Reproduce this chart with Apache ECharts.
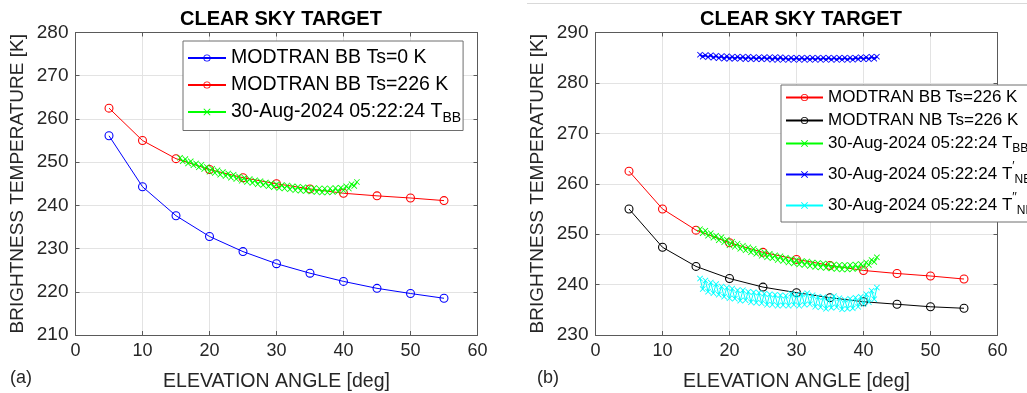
<!DOCTYPE html>
<html>
<head>
<meta charset="utf-8">
<script src="https://cdn.jsdelivr.net/npm/echarts@6/dist/echarts.min.js"></script>
<style>
html,body{margin:0;padding:0;background:#fff;}
#chart{width:1027px;height:393px;}
</style>
</head>
<body>
<div id="chart"></div>
<script>
// ---- data ----
const elev = [5, 10, 15, 20, 25, 30, 35, 40, 45, 50, 55];
const bbTs0 = [256.1, 244.3, 237.6, 232.8, 229.3, 226.5, 224.3, 222.4, 220.8, 219.6, 218.5];
const bbTs226 = [262.5, 255.0, 250.8, 248.3, 246.4, 245.0, 243.8, 242.8, 242.2, 241.7, 241.1];
const nbTs226 = [255.0, 247.4, 243.6, 241.2, 239.5, 238.4, 237.4, 236.6, 236.1, 235.6, 235.3];

const measElev = [15.6,16.0,16.4,16.8,17.2,17.6,18.0,18.4,18.8,19.2,19.6,20.0,20.4,20.8,21.2,21.6,22.0,22.4,22.8,23.2,
  23.6,24.0,24.4,24.8,25.2,25.6,26.0,26.4,26.8,27.2,27.6,28.0,28.4,28.8,29.2,29.6,30.0,30.4,30.8,31.2,
  31.6,32.0,32.4,32.8,33.2,33.6,34.0,34.4,34.8,35.2,35.6,36.0,36.4,36.8,37.2,37.6,38.0,38.4,38.8,39.2,
  39.6,40.0,40.4,40.8,41.2,41.6,42.0];
const tBB = [251.0,250.2,250.7,249.7,250.2,249.3,249.7,248.8,249.4,248.4,248.9,247.8,248.5,247.5,248.1,247.1,247.7,246.8,247.4,246.4,
  247.1,246.1,246.7,245.7,246.4,245.4,246.1,245.2,245.8,244.9,245.6,244.7,245.3,244.4,245.1,244.2,244.9,244.0,244.7,243.9,
  244.6,243.7,244.4,243.5,244.3,243.4,244.2,243.3,244.1,243.2,244.0,243.1,243.9,243.0,243.9,243.0,243.9,243.1,244.0,243.2,
  244.1,243.5,244.4,243.9,244.9,244.5,245.4];
const tNB1 = [285.6,285.2,285.5,285.1,285.5,285.0,285.4,284.9,285.3,284.8,285.3,284.8,285.2,284.8,285.2,284.8,285.2,284.7,285.2,284.7,
  285.1,284.7,285.1,284.7,285.1,284.7,285.1,284.6,285.1,284.6,285.1,284.6,285.0,284.6,285.0,284.6,285.0,284.6,285.0,284.6,
  285.0,284.6,285.0,284.6,285.0,284.6,285.0,284.6,285.0,284.6,285.0,284.6,285.0,284.6,285.0,284.6,285.0,284.6,285.0,284.7,
  285.1,284.7,285.1,284.7,285.2,284.8,285.2];
const tNB2 = [241.2,239.1,240.8,238.6,240.4,238.3,240.1,238.0,239.6,237.6,239.4,237.3,239.2,237.2,238.9,236.8,238.9,236.9,238.6,236.5,
  238.5,236.4,238.4,236.3,238.2,236.0,238.1,236.0,238.0,235.8,237.9,235.9,237.8,235.8,238.2,236.0,238.0,235.8,238.1,236.0,
  238.3,236.1,237.9,235.6,237.6,235.5,237.5,235.2,237.3,235.4,237.7,235.5,237.3,235.1,237.0,235.2,237.2,235.3,237.4,235.6,
  237.6,236.1,238.1,236.5,238.8,237.1,239.4];

const titleText = 'CLEAR SKY TARGET';
const xName = 'ELEVATION ANGLE [deg]';
const yName = 'BRIGHTNESS TEMPERATURE [K]';
const legendLabels = {
  a1: 'MODTRAN BB Ts=0 K',
  a2: 'MODTRAN BB Ts=226 K',
  a3: '30-Aug-2024 05:22:24 T{sub|BB}',
  b1: 'MODTRAN BB Ts=226 K',
  b2: 'MODTRAN NB Ts=226 K',
  b3: '30-Aug-2024 05:22:24 T{sub|BB}',
  b4: '30-Aug-2024 05:22:24 T{sup|′}{sub|NB}',
  b5: '30-Aug-2024 05:22:24 T{sup|′′}{sub|NB}'
};

// ---- build ----
const pairs = (xs, ys) => xs.map((x, i) => [x, ys[i]]);
const ring = 'path://M0,5A5,5 0 1,0 10,5A5,5 0 1,0 0,5Z M1.2,5A3.8,3.8 0 1,1 8.8,5A3.8,3.8 0 1,1 1.2,5Z';
const cross = 'path://M0,1L1,0L5,4L9,0L10,1L6,5L10,9L9,10L5,6L1,10L0,9L4,5Z';
const FONT = '"Liberation Sans", Arial, Helvetica, sans-serif';
const axisCol = '#5a5a5a';
const gridCol = '#e3e3e3';

function xAxes(gi) {
  return [{
    type: 'value', gridIndex: gi, min: 0, max: 60, interval: 10, position: 'bottom',
    name: xName, nameLocation: 'middle', nameGap: 37,
    nameTextStyle: {fontFamily: FONT, fontSize: 19.5, color: '#262626'},
    axisLine: {show: true, lineStyle: {color: axisCol}},
    axisTick: {show: true, inside: true, length: 4, lineStyle: {color: axisCol}},
    axisLabel: {fontFamily: FONT, fontSize: 18, color: '#262626', margin: 7},
    splitLine: {show: true, lineStyle: {color: gridCol}}
  }, {
    type: 'value', gridIndex: gi, min: 0, max: 60, interval: 10, position: 'top',
    axisLine: {show: true, onZero: false, lineStyle: {color: axisCol}},
    axisTick: {show: true, inside: true, length: 4, lineStyle: {color: axisCol}},
    axisLabel: {show: false}, splitLine: {show: false}
  }];
}
function yAxes(gi, mn, mx) {
  return [{
    type: 'value', gridIndex: gi, min: mn, max: mx, interval: 10, position: 'left',
    name: yName, nameLocation: 'middle', nameGap: 48,
    nameTextStyle: {fontFamily: FONT, fontSize: 19, color: '#262626'},
    axisLine: {show: true, onZero: false, lineStyle: {color: axisCol}},
    axisTick: {show: true, inside: true, length: 4, lineStyle: {color: axisCol}},
    axisLabel: {fontFamily: FONT, fontSize: 19, color: '#262626', margin: 7},
    splitLine: {show: true, lineStyle: {color: gridCol}}
  }, {
    type: 'value', gridIndex: gi, min: mn, max: mx, interval: 10, position: 'right',
    axisLine: {show: true, onZero: false, lineStyle: {color: axisCol}},
    axisTick: {show: true, inside: true, length: 4, lineStyle: {color: axisCol}},
    axisLabel: {show: false}, splitLine: {show: false}
  }];
}
function modSeries(name, xi, yi, data, color) {
  return {
    name, type: 'line', xAxisIndex: xi, yAxisIndex: yi, data,
    symbol: ring, symbolSize: 9, showAllSymbol: true,
    lineStyle: {color, width: 1}, itemStyle: {color},
    animation: false, z: 3
  };
}
function measSeries(name, xi, yi, data, color, w) {
  return {
    name, type: 'line', xAxisIndex: xi, yAxisIndex: yi, data,
    symbol: cross, symbolSize: 6, showAllSymbol: true,
    lineStyle: {color, width: w}, itemStyle: {color},
    animation: false, z: 4
  };
}
function legendRich(fs, supPad) {
  return {
    sub: {fontFamily: FONT, fontSize: Math.round(fs * 0.7), padding: [Math.round(fs * 0.65), 0, 0, 0]},
    sup: {fontFamily: FONT, fontSize: Math.round(fs * 0.7), padding: [0, 0, supPad, 0]}
  };
}

const option = {
  backgroundColor: '#fff',
  animation: false,
  title: [
    {text: titleText, left: 276, top: 4, textAlign: 'center',
     textStyle: {fontFamily: FONT, fontSize: 20, fontWeight: 'bold', color: '#000'}},
    {text: titleText, left: 796, top: 4, textAlign: 'center',
     textStyle: {fontFamily: FONT, fontSize: 20, fontWeight: 'bold', color: '#000'}}
  ],
  grid: [
    {left: 75.5, right: 549.5, top: 32.5, bottom: 58, containLabel: false, outerBoundsMode: 'none'},
    {left: 595.5, right: 29.5, top: 32.5, bottom: 58, containLabel: false, outerBoundsMode: 'none'}
  ],
  xAxis: [...xAxes(0), ...xAxes(1)],
  yAxis: [...yAxes(0, 210, 280), ...yAxes(1, 230, 290)],
  legend: [
    {data: ['a1', 'a2', 'a3'], orient: 'vertical', left: 183, top: 41,
     padding: [7, 2, 5, 4], itemGap: 7, itemWidth: 38, itemHeight: 9,
     backgroundColor: '#fff', borderColor: '#6e6e6e', borderWidth: 1,
     formatter: n => legendLabels[n], selectedMode: false,
     textStyle: {fontFamily: FONT, fontSize: 19.5, color: '#000', rich: legendRich(19.5, 9)}},
    {data: ['b1', 'b2', 'b3', 'b4', 'b5'], orient: 'vertical', left: 781, top: 85,
     padding: [4, 8, 5, 4], itemGap: 6, itemWidth: 37, itemHeight: 9,
     backgroundColor: '#fff', borderColor: '#6e6e6e', borderWidth: 1,
     formatter: n => legendLabels[n], selectedMode: false,
     textStyle: {fontFamily: FONT, fontSize: 17, color: '#000', rich: legendRich(17, 15)}}
  ],
  series: [
    modSeries('a1', 0, 0, pairs(elev, bbTs0), '#0000ff'),
    modSeries('a2', 0, 0, pairs(elev, bbTs226), '#ff0000'),
    measSeries('a3', 0, 0, pairs(measElev, tBB), '#00ff00', 1),
    modSeries('b1', 2, 2, pairs(elev, bbTs226), '#ff0000'),
    modSeries('b2', 2, 2, pairs(elev, nbTs226), '#000000'),
    measSeries('b3', 2, 2, pairs(measElev, tBB), '#00ff00', 1),
    measSeries('b4', 2, 2, pairs(measElev, tNB1), '#0000ff', 2),
    measSeries('b5', 2, 2, pairs(measElev, tNB2), '#00ffff', 1)
  ],
  graphic: [
    {type: 'line', shape: {x1: 527, y1: 3.5, x2: 1027, y2: 3.5}, style: {stroke: '#d9d9d9', lineWidth: 1}},
    {type: 'text', left: 10, top: 369, style: {text: '(a)', font: '18px "Liberation Sans", Arial, sans-serif', fill: '#262626'}},
    {type: 'text', left: 537, top: 369, style: {text: '(b)', font: '18px "Liberation Sans", Arial, sans-serif', fill: '#262626'}}
  ]
};

const chart = echarts.init(document.getElementById('chart'), null, {renderer: 'canvas'});
chart.setOption(option);
</script>
</body>
</html>
